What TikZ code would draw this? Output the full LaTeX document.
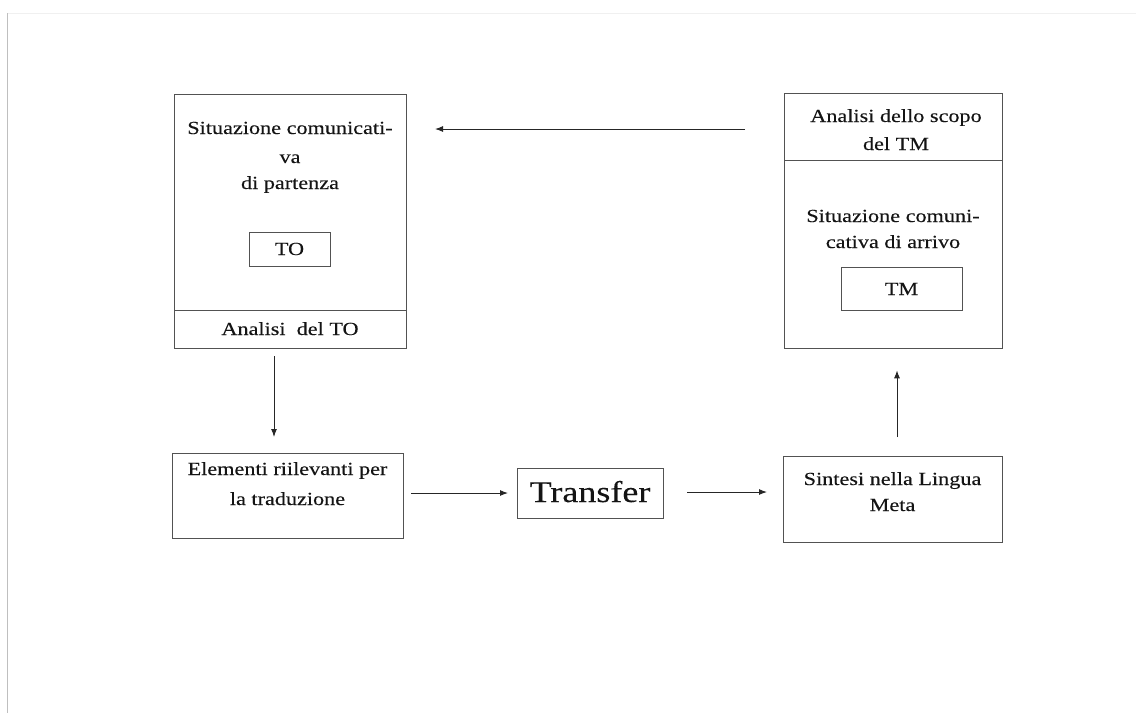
\documentclass[tikz,border=0pt]{standalone}
\usepackage{fontspec}
\setmainfont{Liberation Serif}[FakeStretch=1.2,FakeBold=0.15]
\usetikzlibrary{arrows.meta}
\tikzset{
  box/.style={draw=black!68, line width=1.3pt, inner sep=0pt, anchor=north west},
  lbl/.style={font=\fontsize{18.5}{27}\selectfont, inner sep=0pt, anchor=base, align=center, text=black!92},
  arr/.style={draw=black!85, line width=1pt, -{Latex[length=8pt,width=6pt]}},
}
\begin{document}
\begin{tikzpicture}[x=1pt,y=-1pt]
\useasboundingbox (0,0) rectangle (1136,713);
\fill[white] (0,0) rectangle (1136,713);
% slide frame
\draw[black!6, line width=1.5pt] (8,13.5) -- (1136,13.5);
\draw[black!25, line width=1.6pt] (7.5,13) -- (7.5,713);

% top-left group
\node[box, minimum width=232pt, minimum height=216pt] (sitPart) at (174,94) {};
\node[box, minimum width=232pt, minimum height=38pt] (anTO) at (174,310) {};
\node[box, minimum width=81pt, minimum height=34pt] (to) at (249,232) {};
\node[lbl] (tSit1) at (290,134) {Situazione comunicati-};
\node[lbl] (tSit2) at (290,163) {va};
\node[lbl] (tSit3) at (290,189) {di partenza};
\node[lbl] (tTO) at (289.5,255) {TO};
\node[lbl] (tAnTO) at (290,335) {Analisi\ \ del TO};

% top-right group
\node[box, minimum width=218pt, minimum height=67pt] (anScopo) at (784,93) {};
\node[box, minimum width=218pt, minimum height=188pt] (sitArr) at (784,160) {};
\node[box, minimum width=121pt, minimum height=43pt] (tm) at (841,267) {};
\node[lbl] (tAn1) at (896,122) {Analisi dello scopo};
\node[lbl] (tAn2) at (896,150) {del TM};
\node[lbl] (tArr1) at (893,222) {Situazione comuni-};
\node[lbl] (tArr2) at (893,248) {cativa di arrivo};
\node[lbl] (tTM) at (901.5,295) {TM};

% bottom row
\node[box, minimum width=231pt, minimum height=85pt] (elem) at (172,453) {};
\node[lbl] (tEl1) at (287.5,475) {Elementi riilevanti per};
\node[lbl] (tEl2) at (287.5,505) {la traduzione};
\node[box, minimum width=146pt, minimum height=50pt] (transfer) at (517,468) {};
\node[lbl, font=\fontsize{30}{30}\selectfont] (tTr) at (590,502) {Transfer};
\node[box, minimum width=219pt, minimum height=86pt] (sintesi) at (783,456) {};
\node[lbl] (tSi1) at (892.5,485) {Sintesi nella Lingua};
\node[lbl] (tSi2) at (892.5,511) {Meta};

% connectors
\coordinate (aFrom) at (745,129);
\coordinate (aTo) at (435,129);
\draw[arr] (aFrom) -- (aTo);
\draw[arr, shorten <=7pt, shorten >=16pt] (anTO.south -| 274,0) -- (elem.north -| 274,0);
\draw[arr, shorten <=7pt, shorten >=9pt] (elem.east |- 0,493) -- (transfer.west |- 0,493);
\draw[arr, shorten <=23pt, shorten >=16pt] (transfer.east |- 0,492) -- (sintesi.west |- 0,492);
\draw[arr, shorten <=19pt, shorten >=21pt] (sintesi.north -| 897,0) -- (sitArr.south -| 897,0);
\end{tikzpicture}
\end{document}
